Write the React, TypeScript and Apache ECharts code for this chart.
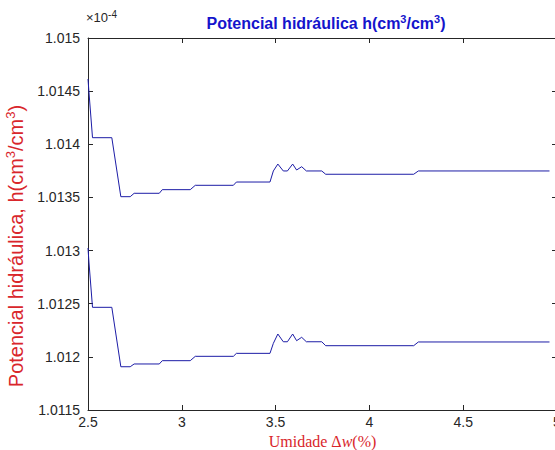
import React, { useEffect, useRef } from "react";
import * as echarts from "echarts";

const umidade = [2.5, 2.505, 2.524, 2.627, 2.675, 2.725, 2.746, 2.88, 2.896, 3.045, 3.072, 3.275, 3.291, 3.47, 3.488, 3.512, 3.541, 3.563, 3.591, 3.612, 3.639, 3.664, 3.746, 3.767, 4.236, 4.261, 4.96];
const potencialSuperior = [1.014614, 1.014492, 1.014062, 1.014062, 1.013507, 1.013507, 1.013539, 1.013539, 1.013573, 1.013573, 1.013614, 1.013614, 1.013645, 1.013645, 1.013749, 1.013814, 1.013749, 1.013749, 1.013814, 1.013758, 1.013789, 1.013749, 1.013749, 1.013718, 1.013718, 1.013749, 1.013749];
const potencialInferior = [1.013024, 1.012892, 1.012466, 1.012466, 1.011907, 1.011907, 1.011933, 1.011933, 1.011964, 1.011964, 1.012005, 1.012005, 1.012033, 1.012033, 1.012127, 1.012215, 1.012142, 1.012142, 1.012215, 1.012152, 1.012184, 1.012142, 1.012142, 1.012105, 1.012105, 1.01214, 1.01214];

const xMin = 2.5, xMax = 5, xStep = 0.5;
const yMin = 1.0115, yMax = 1.015, yStep = 0.0005;

const axisColor = "#262626";
const lineColor = "#1c1ca6";
const redLabel = "#d9262b";
const sans = "'Liberation Sans', Arial, sans-serif";
const serif = "'Liberation Serif', 'Times New Roman', serif";

export default function App() {
  const ref = useRef<HTMLDivElement>(null);
  useEffect(() => {
    if (!ref.current) return;
    const chart = echarts.init(ref.current, null, { renderer: "svg" });
    const pairs = (ys: number[]) => umidade.map((x, i) => [x, ys[i]]);
    const tickCommon = { show: true, inside: true, length: 5, lineStyle: { color: axisColor } };
    chart.setOption({
      animation: false,
      backgroundColor: "#ffffff",
      title: {
        text: "Potencial hidráulica h(cm{sup|3}/cm{sup|3})",
        left: 321,
        top: 8,
        textAlign: "center",
        textStyle: {
          fontFamily: sans,
          fontSize: 16,
          fontWeight: "bold",
          color: "#1414cc",
          lineHeight: 20,
          rich: {
            sup: { fontFamily: sans, fontSize: 11, fontWeight: "bold", color: "#1414cc", verticalAlign: "top", lineHeight: 11 },
          },
        },
      },
      graphic: [
        {
          type: "text",
          left: 86,
          top: 9,
          style: {
            text: "×10{sup|-4}",
            fontFamily: sans,
            fontSize: 13,
            fill: axisColor,
            lineHeight: 17,
            rich: { sup: { fontFamily: sans, fontSize: 10, fill: axisColor, verticalAlign: "top", lineHeight: 10 } },
          },
        },
        {
          type: "text",
          x: 16,
          y: 246,
          rotation: Math.PI / 2,
          style: {
            text: "Potencial hidráulica, h(cm{sup|3}/cm{sup|3})",
            fontFamily: sans,
            fontSize: 20,
            fill: redLabel,
            align: "center",
            verticalAlign: "middle",
            lineHeight: 24,
            rich: { sup: { fontFamily: sans, fontSize: 13, fill: redLabel, verticalAlign: "top", lineHeight: 13 } },
          },
        },
      ],
      grid: { left: 88, top: 38, width: 469, height: 372, show: false, outerBoundsMode: "none", containLabel: false },
      xAxis: [
        {
          type: "value",
          min: xMin,
          max: xMax,
          interval: xStep,
          position: "bottom",
          axisLine: { show: true, lineStyle: { color: axisColor, width: 1 } },
          axisTick: tickCommon,
          splitLine: { show: false },
          axisLabel: { color: axisColor, fontFamily: sans, fontSize: 14, margin: 5 },
          name: "Umidade Δ{it|w}(%)",
          nameLocation: "middle",
          nameGap: 20,
          nameTextStyle: {
            fontFamily: serif,
            fontSize: 16,
            color: redLabel,
            rich: { it: { fontFamily: serif, fontSize: 16, fontStyle: "italic", color: redLabel } },
          },
        },
        {
          type: "value",
          min: xMin,
          max: xMax,
          interval: xStep,
          position: "top",
          axisLine: { show: true, lineStyle: { color: axisColor, width: 1 } },
          axisTick: tickCommon,
          splitLine: { show: false },
          axisLabel: { show: false },
        },
      ],
      yAxis: [
        {
          type: "value",
          min: yMin,
          max: yMax,
          interval: yStep,
          position: "left",
          axisLine: { show: true, lineStyle: { color: axisColor, width: 1 } },
          axisTick: tickCommon,
          splitLine: { show: false },
          axisLabel: {
            color: axisColor,
            fontFamily: sans,
            fontSize: 14,
            margin: 8,
            formatter: (v: number) => String(parseFloat(v.toFixed(4))),
          },
        },
        {
          type: "value",
          min: yMin,
          max: yMax,
          interval: yStep,
          position: "right",
          axisLine: { show: true, lineStyle: { color: axisColor, width: 1 } },
          axisTick: tickCommon,
          splitLine: { show: false },
          axisLabel: { show: false },
        },
      ],
      series: [
        {
          type: "line",
          name: "superior",
          data: pairs(potencialSuperior),
          showSymbol: false,
          symbol: "none",
          lineStyle: { color: lineColor, width: 1 },
          xAxisIndex: 0,
          yAxisIndex: 0,
        },
        {
          type: "line",
          name: "inferior",
          data: pairs(potencialInferior),
          showSymbol: false,
          symbol: "none",
          lineStyle: { color: lineColor, width: 1 },
          xAxisIndex: 0,
          yAxisIndex: 0,
        },
      ],
    });
    return () => chart.dispose();
  }, []);
  return <div ref={ref} style={{ width: 555, height: 450, position: "absolute", left: 0, top: 0 }} />;
}
